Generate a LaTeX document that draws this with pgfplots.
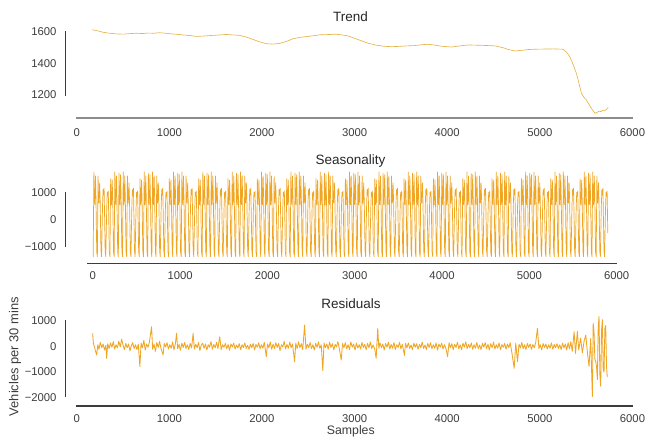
\documentclass[border=0pt]{standalone}
\usepackage{pgfplots}
\pgfplotsset{compat=1.18}
\usepackage{pgfplotstable}
\usepackage{fontspec}
\setmainfont{Liberation Sans}
\definecolor{org}{RGB}{240,165,35}
\definecolor{trendc}{RGB}{230,180,70}
\definecolor{axc}{RGB}{60,60,60}

% Trend component
\pgfplotstableread{
x v
168 1612
202 1608
242 1603
284 1596
353 1590
424 1586
500 1584
565 1587
643 1590
707 1588
767 1591
828 1590
896 1593
959 1590
1019 1586
1090 1583
1148 1579
1211 1576
1292 1570
1363 1572
1433 1575
1514 1578
1617 1582
1696 1579
1761 1576
1837 1565
1906 1550
1978 1535
2050 1524
2120 1521
2194 1526
2271 1540
2339 1556
2423 1565
2503 1570
2555 1574
2624 1580
2735 1582
2785 1584
2857 1580
2929 1573
3028 1552
3145 1527
3230 1515
3311 1508
3397 1505
3482 1507
3563 1510
3649 1512
3735 1518
3792 1520
3866 1515
3937 1508
4046 1503
4139 1510
4225 1516
4340 1514
4441 1512
4513 1510
4593 1500
4663 1487
4729 1478
4805 1482
4875 1487
4945 1489
5047 1490
5148 1491
5250 1489
5289 1470
5323 1442
5360 1392
5394 1337
5420 1280
5449 1210
5476 1185
5502 1169
5532 1140
5556 1116
5577 1098
5597 1084
5618 1090
5638 1098
5658 1095
5678 1102
5698 1100
5718 1108
5738 1122
}\trend

% Seasonal component: one week (t = samples from Monday 00:00, 48 per day)
\pgfplotstableread{
t s
0 -1200
7 -1370
15 1500
20 700
25 540
33 1450
39 700
44 -400
48 -1200
55 -1370
63 1750
68 750
73 540
81 1600
87 750
92 -400
96 -1200
103 -1370
111 1700
116 700
121 540
129 1650
135 700
140 -400
144 -1200
151 -1370
159 1750
164 750
169 540
177 1600
183 750
188 -400
192 -1200
199 -1370
207 1600
212 700
217 600
225 1350
231 700
236 -300
240 -1150
247 -1370
258 500
264 1100
270 900
276 1150
284 -300
288 -1150
295 -1370
306 400
312 1000
318 850
324 1050
332 -500
336 -1200
}\season

% Residual component
\pgfplotstableread{
x r
172 505
180 120
195 -80
215 -345
228 60
240 -120
255 150
270 -60
285 90
300 -150
315 40
323 -475
335 100
350 -90
365 130
380 -40
395 180
410 -110
425 60
440 -70
455 200
470 -30
485 280
500 50
515 -140
530 110
545 -60
560 90
575 -180
590 20
605 140
620 -90
635 60
650 -130
665 80
682 -800
695 120
710 -60
725 230
740 -150
755 90
770 -40
785 160
808 765
820 -120
835 80
850 -200
865 150
880 -50
895 190
910 -90
933 -345
945 110
960 -30
975 140
990 -110
1005 60
1020 -80
1035 170
1050 -140
1065 90
1078 505
1090 -100
1105 70
1120 -160
1135 120
1150 -50
1165 150
1180 -90
1195 60
1210 -130
1225 110
1240 -70
1257 505
1270 -110
1285 80
1300 -60
1315 140
1330 -170
1345 50
1360 120
1375 -80
1390 90
1405 -150
1420 60
1435 -40
1450 180
1465 -120
1480 70
1495 -60
1510 150
1525 -90
1544 370
1560 -130
1575 60
1590 -40
1605 110
1620 -100
1635 70
1650 -160
1665 90
1680 -30
1695 120
1710 -110
1725 50
1740 -70
1755 100
1770 -140
1785 60
1800 -50
1815 130
1830 -90
1845 40
1860 -120
1875 80
1890 -60
1905 110
1920 -150
1935 70
1950 -40
1965 130
1980 -100
1995 60
2010 -80
2025 150
2047 -410
2060 90
2075 -60
2090 170
2105 -120
2120 80
2135 -90
2150 140
2165 -50
2180 110
2195 -170
2210 60
2225 -30
2240 190
2255 -110
2270 70
2285 -80
2300 160
2315 -60
2330 90
2352 -605
2365 120
2380 -90
2395 170
2410 -60
2425 100
2440 -140
2460 830
2475 -120
2490 80
2505 -60
2520 150
2535 -100
2550 60
2565 -150
2580 110
2595 -40
2610 170
2625 -80
2640 60
2657 -960
2670 130
2685 -60
2700 90
2715 -120
2730 160
2745 -50
2760 100
2775 -140
2790 70
2805 -30
2820 180
2835 -90
2856 -540
2870 110
2885 -60
2900 140
2915 -100
2930 60
2945 -130
2960 170
2975 -40
2990 90
3005 -150
3020 120
3035 -70
3050 60
3065 -110
3080 150
3095 -50
3110 80
3125 -140
3140 110
3155 -60
3170 170
3185 -90
3200 50
3218 -120
3233 -475
3250 700
3262 -80
3275 130
3290 -60
3305 90
3320 -150
3335 110
3350 -40
3365 160
3380 -110
3395 70
3410 -80
3425 140
3440 -130
3455 60
3470 -50
3485 150
3500 -100
3515 80
3538 -360
3550 110
3565 -60
3580 130
3595 -90
3610 50
3625 -140
3640 120
3655 -40
3670 100
3685 -120
3700 70
3715 -60
3730 160
3745 -90
3760 50
3775 -130
3790 110
3805 -50
3820 140
3835 -100
3850 60
3865 -80
3880 130
3895 -150
3910 90
3925 -40
3940 120
3955 -110
3970 60
3985 -70
4004 -410
4020 140
4035 -60
4050 100
4065 -130
4080 80
4095 -50
4110 150
4125 -100
4140 60
4155 -140
4170 120
4185 -40
4200 170
4215 -90
4230 70
4245 -60
4260 130
4275 -120
4290 60
4305 -80
4320 150
4335 -100
4350 50
4365 -130
4380 110
4395 -40
4410 140
4425 -90
4440 80
4455 -150
4470 100
4485 -60
4500 160
4515 -110
4530 60
4545 -80
4560 130
4575 -140
4590 70
4605 -40
4620 110
4635 -120
4650 90
4665 -60
4680 140
4700 -300
4723 -867
4740 120
4759 -605
4775 80
4790 -70
4805 150
4820 -100
4835 60
4850 -130
4865 110
4880 -50
4895 90
4910 -120
4925 70
4940 -60
4955 130
4974 700
4990 -90
5005 60
5020 -140
5035 110
5050 -50
5065 90
5080 -110
5095 60
5110 -80
5125 130
5140 -120
5155 70
5170 -60
5185 100
5200 -90
5215 60
5230 -130
5245 120
5260 -70
5275 90
5290 -150
5305 140
5320 -110
5335 180
5350 -200
5370 570
5385 -280
5405 580
5420 -150
5440 320
5459 -260
5478 200
5496 440
5515 -300
5531 -790
5549 300
5567 -1970
5576 900
5585 570
5594 -500
5603 -600
5612 -800
5621 -1310
5630 700
5639 1170
5648 -1100
5657 -1570
5666 600
5675 1040
5684 -900
5693 -1020
5702 700
5711 810
5720 -800
5728 -1210
}\resid

\begin{document}
\begin{tikzpicture}
\useasboundingbox (0pt,0pt) rectangle (645pt,441pt);
\pgfplotsset{
  panel/.style={
    scale only axis, anchor=south west,
    axis line style={draw=none}, tick style={draw=none}, major tick length=0pt,
    clip=false, scaled ticks=false,
    tick label style={font=\fontsize{11.3}{13}\selectfont, text=axc},
    xtick={0,1000,2000,3000,4000,5000,6000},
    xticklabels={0,1000,2000,3000,4000,5000,6000},
    yticklabel style={anchor=east, inner sep=0pt},
    xticklabel style={anchor=north, inner sep=0pt},
  }
}
% ---------------- Trend ----------------
\begin{axis}[panel, at={(64.66pt,323pt)}, width=567.8pt, height=91.1pt,
  xmin=-130, xmax=6000, ymin=1054.7, ymax=1630,
  ytick={1200,1400,1600}, yticklabels={1200,1400,1600},
  yticklabel style={xshift=-7.96pt}, xticklabel style={yshift=-10.5pt}]
\addplot[trendc, line width=0.65pt, line join=round] table[x=x, y=v] {\trend};
\draw[axc, line width=0.9pt] (axis cs:-119,1195) -- (axis cs:-119,1602);
\draw[black!45, line width=1.5pt] (axis cs:-8,1054.7) -- (axis cs:6006,1054.7);
\end{axis}
% ---------------- Seasonality ----------------
\begin{axis}[panel, at={(64.8pt,177.7pt)}, width=551.9pt, height=92.75pt,
  xmin=-320, xmax=6000, ymin=-1610, ymax=1800,
  ytick={-1000,0,1000}, yticklabels={−1000,0,1000},
  yticklabel style={xshift=-8.1pt}, xticklabel style={yshift=-8.5pt},
  restrict x to domain=0:5900]
\pgfplotsinvokeforeach{0,...,17}{
  \addplot[org, line width=0.7pt, line join=round] table[x expr=\thisrow{t}+336*#1-146, y=s] {\season};
}
\draw[axc, line width=0.9pt] (axis cs:-309,-1000) -- (axis cs:-309,1020);
\draw[axc, line width=1.2pt] (axis cs:-65,-1610) -- (axis cs:6000,-1610);
\end{axis}
% ---------------- Residuals ----------------
\begin{axis}[panel, at={(64.66pt,35pt)}, width=567.8pt, height=95.5pt,
  xmin=-130, xmax=6000, ymin=-2342, ymax=1400,
  ytick={-2000,-1000,0,1000}, yticklabels={−2000,−1000,0,1000},
  yticklabel style={xshift=-7.96pt}, xticklabel style={yshift=-8.5pt}]
\addplot[org, line width=0.85pt, line join=round] table[x=x, y=r] {\resid};
\draw[axc, line width=0.9pt] (axis cs:-119,-2000) -- (axis cs:-119,1030);
\draw[axc, line width=1.2pt] (axis cs:-8,-2342) -- (axis cs:6006,-2342);
\end{axis}
% titles and labels
\node[anchor=base, font=\fontsize{13.5}{15}\selectfont, text=black!85] at (350.5pt,419pt) {Trend};
\node[anchor=base, font=\fontsize{13.5}{15}\selectfont, text=black!85] at (350.5pt,276.5pt) {Seasonality};
\node[anchor=base, font=\fontsize{13.5}{15}\selectfont, text=black!85] at (351pt,132.7pt) {Residuals};
\node[anchor=base, font=\fontsize{12.3}{14}\selectfont, text=axc] at (350.8pt,6.5pt) {Samples};
\node[rotate=90, anchor=center, font=\fontsize{12.9}{15}\selectfont, text=axc] at (15pt,84.3pt) {Vehicles per 30 mins};
\end{tikzpicture}
\end{document}
